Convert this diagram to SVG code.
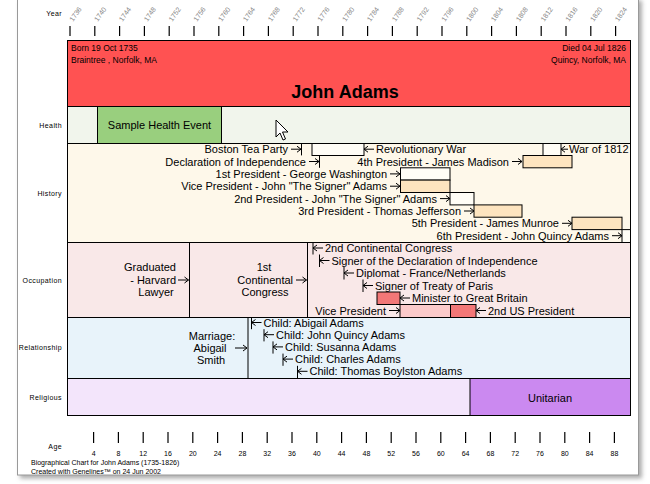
<svg xmlns="http://www.w3.org/2000/svg" width="650" height="484" viewBox="0 0 650 484">
<defs>
<filter id="sh" x="-5%" y="-5%" width="110%" height="110%">
<feDropShadow dx="3" dy="3" stdDeviation="2" flood-color="#777" flood-opacity="0.6"/>
</filter>
<style>
text{font-family:"Liberation Sans",Arial,sans-serif;fill:#000}
.t{font-size:11px}
.hd{font-size:8.5px}
.nm{font-size:18px;font-weight:bold}
.rl{font-size:7px;letter-spacing:0.4px;fill:#000;text-anchor:end}
.yr{font-size:7px;fill:#888}
.ag{font-size:7px;fill:#000;text-anchor:middle}
.ft{font-size:7px;fill:#000}
.e{text-anchor:end}
.m{text-anchor:middle}
.b{stroke:#000;stroke-width:1;fill:none}
.bx{stroke:#000;stroke-width:1}
.tk{stroke:#000;stroke-width:1.2}
.w{fill:#FFFDF6}
.pc{fill:#FDE4BF}
.rd{fill:#F27777}
.pk{fill:#FBCACA}
</style>
</defs>
<rect width="650" height="484" fill="#fff"/>
<rect x="17.5" y="-2" width="621" height="477" fill="#fff" stroke="#999" filter="url(#sh)"/>

<g id="year-axis">
<text x="62" y="16" class="rl">Year</text>
<g class="tk">
<line x1="70" y1="26" x2="70" y2="36"/><line x1="94.8" y1="26" x2="94.8" y2="36"/><line x1="119.6" y1="26" x2="119.6" y2="36"/><line x1="144.4" y1="26" x2="144.4" y2="36"/><line x1="169.2" y1="26" x2="169.2" y2="36"/><line x1="194" y1="26" x2="194" y2="36"/><line x1="218.8" y1="26" x2="218.8" y2="36"/><line x1="243.6" y1="26" x2="243.6" y2="36"/><line x1="268.4" y1="26" x2="268.4" y2="36"/><line x1="293.2" y1="26" x2="293.2" y2="36"/><line x1="318" y1="26" x2="318" y2="36"/><line x1="342.8" y1="26" x2="342.8" y2="36"/><line x1="367.6" y1="26" x2="367.6" y2="36"/><line x1="392.4" y1="26" x2="392.4" y2="36"/><line x1="417.2" y1="26" x2="417.2" y2="36"/><line x1="442" y1="26" x2="442" y2="36"/><line x1="466.8" y1="26" x2="466.8" y2="36"/><line x1="491.6" y1="26" x2="491.6" y2="36"/><line x1="516.4" y1="26" x2="516.4" y2="36"/><line x1="541.2" y1="26" x2="541.2" y2="36"/><line x1="566" y1="26" x2="566" y2="36"/><line x1="590.8" y1="26" x2="590.8" y2="36"/><line x1="615.6" y1="26" x2="615.6" y2="36"/>
</g>
<text class="yr" transform="translate(73,22) rotate(-55)">1736</text>
<text class="yr" transform="translate(97.8,22) rotate(-55)">1740</text>
<text class="yr" transform="translate(122.6,22) rotate(-55)">1744</text>
<text class="yr" transform="translate(147.4,22) rotate(-55)">1748</text>
<text class="yr" transform="translate(172.2,22) rotate(-55)">1752</text>
<text class="yr" transform="translate(197,22) rotate(-55)">1756</text>
<text class="yr" transform="translate(221.8,22) rotate(-55)">1760</text>
<text class="yr" transform="translate(246.6,22) rotate(-55)">1764</text>
<text class="yr" transform="translate(271.4,22) rotate(-55)">1768</text>
<text class="yr" transform="translate(296.2,22) rotate(-55)">1772</text>
<text class="yr" transform="translate(321,22) rotate(-55)">1776</text>
<text class="yr" transform="translate(345.8,22) rotate(-55)">1780</text>
<text class="yr" transform="translate(370.6,22) rotate(-55)">1784</text>
<text class="yr" transform="translate(395.4,22) rotate(-55)">1788</text>
<text class="yr" transform="translate(420.2,22) rotate(-55)">1792</text>
<text class="yr" transform="translate(445,22) rotate(-55)">1796</text>
<text class="yr" transform="translate(469.8,22) rotate(-55)">1800</text>
<text class="yr" transform="translate(494.6,22) rotate(-55)">1804</text>
<text class="yr" transform="translate(519.4,22) rotate(-55)">1808</text>
<text class="yr" transform="translate(544.2,22) rotate(-55)">1812</text>
<text class="yr" transform="translate(569,22) rotate(-55)">1816</text>
<text class="yr" transform="translate(593.8,22) rotate(-55)">1820</text>
<text class="yr" transform="translate(618.6,22) rotate(-55)">1824</text>
</g>

<g id="row-labels">
<text x="62" y="128" class="rl">Health</text>
<text x="62" y="196" class="rl">History</text>
<text x="62" y="283" class="rl">Occupation</text>
<text x="62" y="350" class="rl">Relationship</text>
<text x="62" y="400" class="rl">Religious</text>
</g>

<g id="header">
<rect x="67.5" y="40.5" width="563" height="66" fill="#FF5252" class="bx"/>
<text x="71" y="51" class="hd">Born 19 Oct 1735</text>
<text x="71" y="63" class="hd">Braintree , Norfolk, MA</text>
<text x="626" y="51" class="hd e">Died 04 Jul 1826</text>
<text x="626" y="63" class="hd e">Quincy, Norfolk, MA</text>
<text x="345" y="98" class="nm m">John Adams</text>
</g>

<g id="health">
<rect x="67.5" y="106.5" width="563" height="37" fill="#F1F5EC" class="bx"/>
<g id="sample-health-event">
<rect x="97.5" y="106.5" width="124" height="37" fill="#99CF7E" class="bx"/>
<text x="159.5" y="129" class="t m">Sample Health Event</text>
</g>
</g>

<g id="history">
<rect x="67.5" y="143.5" width="563" height="99" fill="#FEF8EA" class="bx"/>
<g id="revolutionary-war"><rect x="312" y="143.5" width="52" height="12" class="bx w"/><text x="376" y="153.2" class="t">Revolutionary War</text></g>
<g id="war-1812"><rect x="543" y="143.5" width="18" height="12" class="bx w"/><text x="569" y="153.2" class="t">War of 1812</text></g>
<g id="boston-tea-party"><text x="288" y="153.2" class="t e">Boston Tea Party</text></g>
<g id="declaration"><text x="306" y="165.5" class="t e">Declaration of Independence</text></g>
<g id="madison"><rect x="523" y="155.5" width="49" height="12.3" class="bx pc"/><text x="509" y="165.5" class="t e">4th President - James Madison</text></g>
<g id="washington"><rect x="400.5" y="167.8" width="49.5" height="12.3" class="bx w"/><text x="387" y="177.9" class="t e">1st President - George Washington</text></g>
<g id="vice-president"><rect x="400.5" y="180.1" width="49.5" height="12.4" class="bx pc"/><text x="387" y="190.2" class="t e">Vice President - John "The Signer" Adams</text></g>
<g id="second-president"><rect x="450" y="192.5" width="24" height="12.4" class="bx w"/><text x="437" y="202.6" class="t e">2nd President - John "The Signer" Adams</text></g>
<g id="jefferson"><rect x="474" y="204.9" width="48" height="12.3" class="bx pc"/><text x="461" y="215" class="t e">3rd President - Thomas Jefferson</text></g>
<g id="monroe"><rect x="572" y="217.2" width="50" height="12.4" class="bx pc"/><text x="559" y="227.3" class="t e">5th President - James Munroe</text></g>
<g id="jq-adams"><rect x="622" y="229.6" width="8.5" height="12.9" class="bx w"/><text x="609" y="239.7" class="t e">6th President - John Quincy Adams</text></g>
</g>

<g id="occupation">
<rect x="67.5" y="242.5" width="563" height="75" fill="#F9E8E8" class="bx"/>
<g id="harvard"><rect x="67.5" y="242.5" width="122" height="75" fill="#F9E8E8" class="bx"/>
<text x="150" y="271" class="t m">Graduated</text>
<text x="176" y="284" class="t e">- Harvard</text>
<text x="156" y="296" class="t m">Lawyer</text></g>
<g id="first-continental"><rect x="189.5" y="242.5" width="118" height="75" fill="#F9E8E8" class="bx"/>
<text x="264" y="271" class="t m">1st</text>
<text x="293" y="284" class="t e">Continental</text>
<text x="265" y="296" class="t m">Congress</text></g>
<g id="second-continental"><text x="325" y="252" class="t">2nd Continental Congress</text></g>
<g id="signer-declaration"><text x="331.5" y="264.5" class="t">Signer of the Declaration of Independence</text></g>
<g id="diplomat"><text x="356" y="277" class="t">Diplomat - France/Netherlands</text></g>
<g id="treaty-paris"><text x="375" y="289.5" class="t">Signer of Treaty of Paris</text></g>
<g id="minister"><rect x="377" y="292" width="23" height="12.5" class="bx rd"/><text x="412" y="302" class="t">Minister to Great Britain</text></g>
<g id="occ-vice-president"><rect x="400" y="304.5" width="50.5" height="13" class="bx pk"/><text x="386" y="314.5" class="t e">Vice President</text></g>
<g id="us-president"><rect x="450.5" y="304.5" width="25.5" height="13" class="bx rd"/><text x="488" y="314.5" class="t">2nd US President</text></g>
</g>

<g id="relationship">
<rect x="67.5" y="317.5" width="563" height="61" fill="#E8F3FA" class="bx"/>
<g id="marriage"><rect x="67.5" y="317.5" width="180.5" height="61" fill="#E8F3FA" class="bx"/>
<text x="212" y="340" class="t m">Marriage:</text>
<text x="210" y="352" class="t m">Abigail</text>
<text x="211" y="364" class="t m">Smith</text></g>
<g id="child-abigail"><text x="263.5" y="326.5" class="t">Child: Abigail Adams</text></g>
<g id="child-jqa"><text x="276" y="338.7" class="t">Child: John Quincy Adams</text></g>
<g id="child-susanna"><text x="285" y="350.9" class="t">Child: Susanna Adams</text></g>
<g id="child-charles"><text x="295" y="363.1" class="t">Child: Charles Adams</text></g>
<g id="child-thomas"><text x="309.5" y="375.3" class="t">Child: Thomas Boylston Adams</text></g>
</g>

<g id="religious">
<rect x="67.5" y="378.5" width="563" height="37" fill="#F3E5FB" class="bx"/>
<g id="unitarian"><rect x="470" y="378.5" width="160.5" height="37" fill="#CB89F0" class="bx"/>
<text x="550" y="402" class="t m">Unitarian</text></g>
</g>

<g id="connectors" class="b">
<path d="M301.5,143.5V155.4 M319.5,155.4V167.8"/>
<path d="M313,243V254.5 M319.5,254.5V267 M344,267V279.5 M363,279.5V292"/>
<path d="M251.5,317.5V329.2 M264,329.2V341.4 M273,341.4V353.6 M283,353.6V365.8 M297.5,365.8V378"/>
<path d="M291,149.2H301 M297,146.2L301,149.2L297,152.2"/>
<path d="M309,161.5H319 M315,158.5L319,161.5L315,164.5"/>
<path d="M512,161.5H522 M518,158.5L522,161.5L518,164.5"/>
<path d="M390,173.9H400 M396,170.9L400,173.9L396,176.9"/>
<path d="M390,186.2H400 M396,183.2L400,186.2L396,189.2"/>
<path d="M440,198.6H450 M446,195.6L450,198.6L446,201.6"/>
<path d="M464,211H474 M470,208L474,211L470,214"/>
<path d="M562,223.3H572 M568,220.3L572,223.3L568,226.3"/>
<path d="M612,235.7H622 M618,232.7L622,235.7L618,238.7"/>
<path d="M178,280H188.5 M184.5,277L188.5,280L184.5,283"/>
<path d="M296,280H306.5 M302.5,277L306.5,280L302.5,283"/>
<path d="M389,310.5H400 M396,307.5L400,310.5L396,313.5"/>
<path d="M235,348H247 M243,345L247,348L243,351"/>
<path d="M364,149.2H374 M368,146.2L364,149.2L368,152.2"/>
<path d="M561,149.2H568 M565,146.2L561,149.2L565,152.2"/>
<path d="M313,248H323 M317,245L313,248L317,251"/>
<path d="M319.5,260.5H329.5 M323.5,257.5L319.5,260.5L323.5,263.5"/>
<path d="M344,273H354 M348,270L344,273L348,276"/>
<path d="M363,285.5H373 M367,282.5L363,285.5L367,288.5"/>
<path d="M400,298H410 M404,295L400,298L404,301"/>
<path d="M476,310.5H486 M480,307.5L476,310.5L480,313.5"/>
<path d="M251.5,322.5H261.5 M255.5,319.5L251.5,322.5L255.5,325.5"/>
<path d="M264,334.7H274 M268,331.7L264,334.7L268,337.7"/>
<path d="M273,346.9H283 M277,343.9L273,346.9L277,349.9"/>
<path d="M283,359.1H293 M287,356.1L283,359.1L287,362.1"/>
<path d="M297.5,371.3H307.5 M301.5,368.3L297.5,371.3L301.5,374.3"/>
</g>

<g id="cursor">
<polygon points="276,120 276,137 280,133 283,140 285.5,139 282.5,132 288,132" fill="#fff" stroke="#000" stroke-width="1"/>
</g>

<g id="age-axis">
<text x="62" y="449" class="rl">Age</text>
<g class="tk">
<line x1="93.6" y1="432" x2="93.6" y2="443"/><line x1="118.4" y1="432" x2="118.4" y2="443"/><line x1="143.2" y1="432" x2="143.2" y2="443"/><line x1="168" y1="432" x2="168" y2="443"/><line x1="192.8" y1="432" x2="192.8" y2="443"/><line x1="217.6" y1="432" x2="217.6" y2="443"/><line x1="242.4" y1="432" x2="242.4" y2="443"/><line x1="267.2" y1="432" x2="267.2" y2="443"/><line x1="292" y1="432" x2="292" y2="443"/><line x1="316.8" y1="432" x2="316.8" y2="443"/><line x1="341.6" y1="432" x2="341.6" y2="443"/><line x1="366.4" y1="432" x2="366.4" y2="443"/><line x1="391.2" y1="432" x2="391.2" y2="443"/><line x1="416" y1="432" x2="416" y2="443"/><line x1="440.8" y1="432" x2="440.8" y2="443"/><line x1="465.6" y1="432" x2="465.6" y2="443"/><line x1="490.4" y1="432" x2="490.4" y2="443"/><line x1="515.2" y1="432" x2="515.2" y2="443"/><line x1="540" y1="432" x2="540" y2="443"/><line x1="564.8" y1="432" x2="564.8" y2="443"/><line x1="589.6" y1="432" x2="589.6" y2="443"/><line x1="614.4" y1="432" x2="614.4" y2="443"/>
</g>
<text x="93.6" y="456" class="ag">4</text><text x="118.4" y="456" class="ag">8</text><text x="143.2" y="456" class="ag">12</text><text x="168" y="456" class="ag">16</text><text x="192.8" y="456" class="ag">20</text><text x="217.6" y="456" class="ag">24</text><text x="242.4" y="456" class="ag">28</text><text x="267.2" y="456" class="ag">32</text><text x="292" y="456" class="ag">36</text><text x="316.8" y="456" class="ag">40</text><text x="341.6" y="456" class="ag">44</text><text x="366.4" y="456" class="ag">48</text><text x="391.2" y="456" class="ag">52</text><text x="416" y="456" class="ag">56</text><text x="440.8" y="456" class="ag">60</text><text x="465.6" y="456" class="ag">64</text><text x="490.4" y="456" class="ag">68</text><text x="515.2" y="456" class="ag">72</text><text x="540" y="456" class="ag">76</text><text x="564.8" y="456" class="ag">80</text><text x="589.6" y="456" class="ag">84</text><text x="614.4" y="456" class="ag">88</text>
</g>

<g id="footer">
<text x="31" y="465" class="ft">Biographical Chart for John Adams (1735-1826)</text>
<text x="31" y="474" class="ft">Created with Genelines™ on 24 Jun 2002</text>
</g>
</svg>
